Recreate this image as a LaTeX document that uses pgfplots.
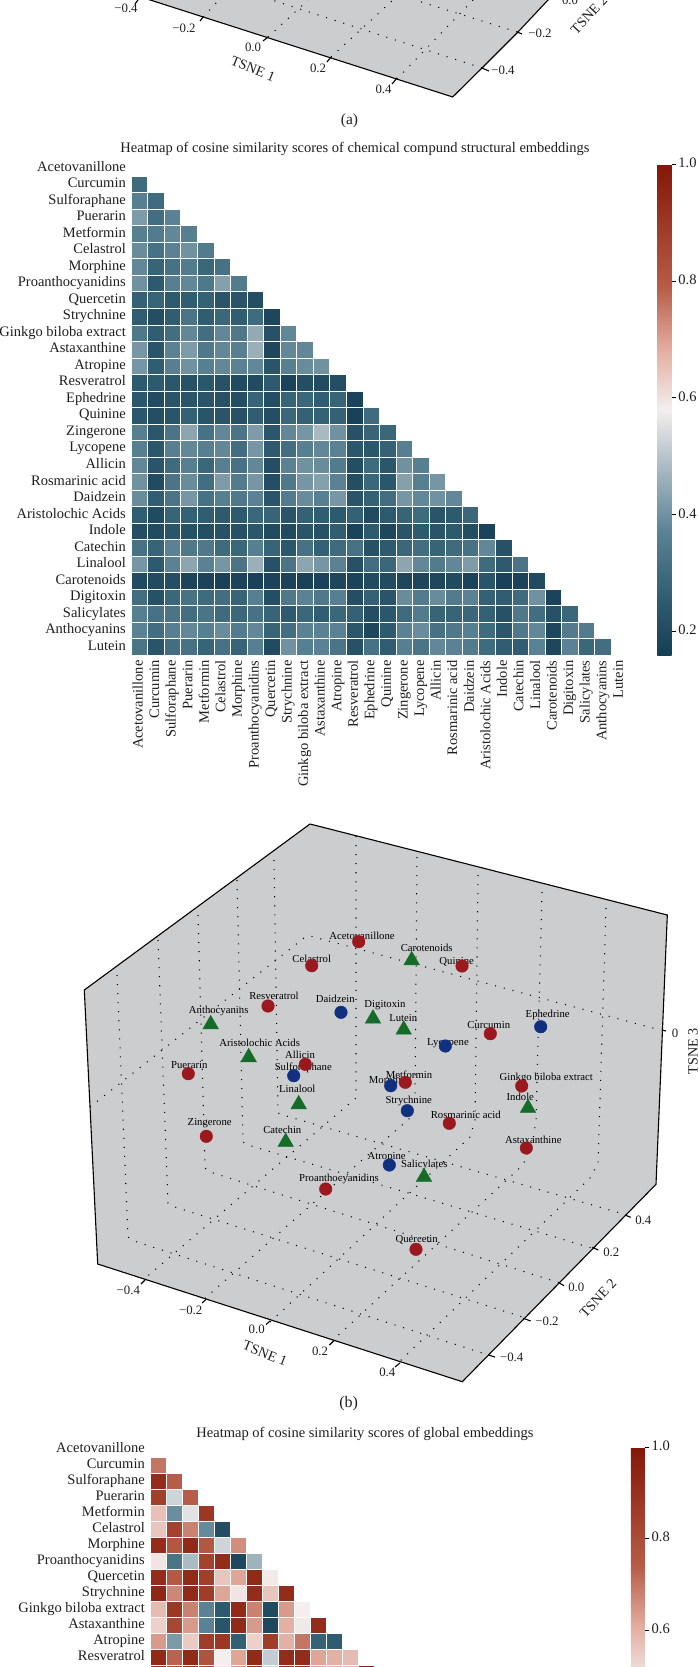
\documentclass[border=0pt]{standalone}
\usepackage{fontspec}
\setmainfont{Liberation Serif}
\usepackage{pgfplots}
\usepackage{pgfplotstable}
\pgfplotsset{compat=1.18}

\definecolor{panelgray}{RGB}{204,205,207}
\definecolor{mkred}{RGB}{155,25,30}
\definecolor{mkblue}{RGB}{17,48,127}
\definecolor{mkgreen}{RGB}{20,108,40}
\definecolor{txt}{RGB}{30,30,30}

\tikzset{
  lab/.style={font=\fontsize{10.7}{12}\selectfont, text=black, inner sep=0pt},
  tk/.style={font=\fontsize{12.8}{14}\selectfont, text=txt, inner sep=0pt},
  ax/.style={font=\fontsize{14.2}{16}\selectfont, text=txt, inner sep=0pt},
}
\pgfplotsset{
  colormap={hm}{rgb255=(22,62,86) rgb255=(50,95,115) rgb255=(90,130,148) rgb255=(165,183,192)
    rgb255=(244,238,238) rgb255=(226,172,158) rgb255=(183,92,72) rgb255=(158,58,38) rgb255=(132,22,8)},
  heat/.style={
    scale only axis, anchor=north west, colormap name=hm, clip=false,
    xmin=-0.5, xmax=29.5, ymin=-0.5, ymax=29.5, y dir=reverse,
    axis line style={draw=none}, major tick length=0pt,
    xtick pos=bottom, ytick pos=left,
    xticklabels={Acetovanillone,Curcumin,Sulforaphane,Puerarin,Metformin,Celastrol,Morphine,Proanthocyanidins,Quercetin,Strychnine,Ginkgo biloba extract,Astaxanthine,Atropine,Resveratrol,Ephedrine,Quinine,Zingerone,Lycopene,Allicin,Rosmarinic acid,Daidzein,Aristolochic Acids,Indole,Catechin,Linalool,Carotenoids,Digitoxin,Salicylates,Anthocyanins,Lutein},
    yticklabels={Acetovanillone,Curcumin,Sulforaphane,Puerarin,Metformin,Celastrol,Morphine,Proanthocyanidins,Quercetin,Strychnine,Ginkgo biloba extract,Astaxanthine,Atropine,Resveratrol,Ephedrine,Quinine,Zingerone,Lycopene,Allicin,Rosmarinic acid,Daidzein,Aristolochic Acids,Indole,Catechin,Linalool,Carotenoids,Digitoxin,Salicylates,Anthocyanins,Lutein},
    tick label style={font=\fontsize{14.5}{16}\selectfont, text=txt, text height=9.6pt, text depth=3pt},
    xticklabel style={rotate=90, anchor=east, inner xsep=0pt, xshift=-5pt},
    yticklabel style={anchor=east, inner xsep=0pt, xshift=-5pt},
    colorbar,
  },
  cbar/.style={
    scale only axis, axis line style={draw=none},
    scaled y ticks=false, ytick pos=right, tick align=outside,
    major tick length=4.5pt, ytick style={black, line width=0.8pt},
    yticklabel style={font=\fontsize{14.5}{16}\selectfont, text=txt, inner xsep=2pt,
      /pgf/number format/fixed, /pgf/number format/fixed zerofill,
      /pgf/number format/precision=1, /pgf/number format/assume math mode=true},
  },
  cell/.style={
    only marks, scatter, point meta=explicit, mark=square*, mark size=#1,
    scatter/use mapped color={draw=white, fill=mapped color},
    mark options={line width=0.55pt},
  },
  grid3d/.style={black, line width=1.05pt, dash pattern=on 1.05pt off 8pt},
  edge3d/.style={black, line width=1.1pt},
}

% structural embeddings, rows Curcumin..Lutein, columns Acetovanillone..Anthocyanins
\pgfplotstableread[header=false]{
.30 nan nan nan nan nan nan nan nan nan nan nan nan nan nan nan nan nan nan nan nan nan nan nan nan nan nan nan nan
.36 .30 nan nan nan nan nan nan nan nan nan nan nan nan nan nan nan nan nan nan nan nan nan nan nan nan nan nan nan
.42 .31 .37 nan nan nan nan nan nan nan nan nan nan nan nan nan nan nan nan nan nan nan nan nan nan nan nan nan nan
.36 .35 .38 .36 nan nan nan nan nan nan nan nan nan nan nan nan nan nan nan nan nan nan nan nan nan nan nan nan nan
.39 .32 .37 .40 .35 nan nan nan nan nan nan nan nan nan nan nan nan nan nan nan nan nan nan nan nan nan nan nan nan
.38 .28 .32 .35 .29 .32 nan nan nan nan nan nan nan nan nan nan nan nan nan nan nan nan nan nan nan nan nan nan nan
.40 .25 .36 .38 .34 .43 .35 nan nan nan nan nan nan nan nan nan nan nan nan nan nan nan nan nan nan nan nan nan nan
.27 .28 .25 .26 .27 .23 .23 .21 nan nan nan nan nan nan nan nan nan nan nan nan nan nan nan nan nan nan nan nan nan
.26 .21 .26 .33 .26 .29 .26 .30 .19 nan nan nan nan nan nan nan nan nan nan nan nan nan nan nan nan nan nan nan nan
.34 .26 .31 .38 .31 .38 .34 .45 .22 .38 nan nan nan nan nan nan nan nan nan nan nan nan nan nan nan nan nan nan nan
.41 .23 .37 .42 .34 .38 .36 .46 .19 .38 .38 nan nan nan nan nan nan nan nan nan nan nan nan nan nan nan nan nan nan
.41 .26 .36 .40 .36 .38 .37 .38 .23 .36 .39 .40 nan nan nan nan nan nan nan nan nan nan nan nan nan nan nan nan nan
.25 .25 .24 .22 .24 .22 .20 .20 .25 .18 .21 .20 .21 nan nan nan nan nan nan nan nan nan nan nan nan nan nan nan nan
.24 .20 .23 .23 .23 .22 .21 .28 .21 .28 .29 .26 .28 .18 nan nan nan nan nan nan nan nan nan nan nan nan nan nan nan
.24 .21 .23 .27 .23 .23 .22 .26 .21 .29 .27 .27 .27 .17 .30 nan nan nan nan nan nan nan nan nan nan nan nan nan nan
.36 .24 .33 .44 .32 .38 .33 .42 .24 .38 .41 .48 .40 .22 .28 .29 nan nan nan nan nan nan nan nan nan nan nan nan nan
.36 .24 .36 .38 .36 .38 .31 .41 .25 .31 .36 .38 .37 .24 .24 .27 .36 nan nan nan nan nan nan nan nan nan nan nan nan
.38 .23 .30 .36 .29 .36 .32 .38 .21 .37 .40 .39 .35 .21 .30 .24 .40 .36 nan nan nan nan nan nan nan nan nan nan nan
.40 .20 .33 .39 .31 .42 .35 .41 .21 .34 .41 .43 .37 .21 .29 .24 .43 .36 .41 nan nan nan nan nan nan nan nan nan nan
.39 .26 .33 .41 .32 .36 .34 .37 .23 .35 .39 .36 .41 .23 .27 .31 .41 .38 .40 .38 nan nan nan nan nan nan nan nan nan
.26 .20 .28 .27 .26 .25 .25 .29 .28 .23 .27 .26 .25 .27 .20 .25 .28 .30 .23 .25 .29 nan nan nan nan nan nan nan nan
.21 .20 .23 .22 .21 .22 .22 .24 .20 .20 .23 .22 .26 .18 .25 .19 .23 .25 .23 .25 .21 .18 nan nan nan nan nan nan nan
.32 .28 .37 .34 .34 .30 .29 .36 .28 .24 .32 .27 .30 .32 .22 .25 .29 .31 .28 .30 .32 .38 .22 nan nan nan nan nan nan
.41 .25 .37 .44 .37 .41 .33 .46 .22 .33 .44 .41 .37 .22 .31 .29 .44 .38 .35 .38 .42 .30 .25 .33 nan nan nan nan nan
.20 .20 .21 .18 .18 .17 .18 .17 .18 .18 .17 .18 .19 .18 .20 .20 .19 .19 .19 .20 .18 .23 .17 .18 .20 nan nan nan nan
.31 .22 .29 .32 .30 .31 .28 .36 .21 .34 .37 .34 .36 .21 .27 .23 .39 .35 .39 .35 .37 .27 .26 .30 .40 .18 nan nan nan
.36 .32 .33 .31 .33 .30 .29 .32 .28 .25 .29 .26 .29 .27 .21 .24 .30 .35 .28 .28 .29 .27 .22 .34 .31 .22 .29 nan nan
.37 .31 .36 .38 .36 .39 .35 .38 .28 .31 .37 .37 .37 .24 .19 .25 .37 .39 .32 .34 .36 .30 .24 .34 .38 .19 .35 .35 nan
.33 .23 .31 .32 .28 .32 .28 .36 .20 .40 .36 .37 .33 .22 .32 .26 .36 .33 .38 .37 .35 .30 .26 .26 .37 .19 .37 .29 .31
}\structtab

% global embeddings, only the rows that fit on the page
\pgfplotstableread[header=false]{
.70 nan nan nan nan nan nan nan nan nan nan nan nan nan
.92 .74 nan nan nan nan nan nan nan nan nan nan nan nan
.85 .42 .74 nan nan nan nan nan nan nan nan nan nan nan
.57 .25 .45 .88 nan nan nan nan nan nan nan nan nan nan
.56 .84 .68 .24 .02 nan nan nan nan nan nan nan nan nan
.92 .76 .93 .76 .42 .66 nan nan nan nan nan nan nan nan
.50 .17 .36 .84 .92 .00 .34 nan nan nan nan nan nan nan
.92 .75 .93 .85 .56 .62 .93 .49 nan nan nan nan nan nan
.94 .67 .93 .86 .62 .50 .92 .56 .92 nan nan nan nan nan
.58 .88 .68 .22 .07 .93 .68 .01 .64 .48 nan nan nan nan
.54 .82 .64 .22 .05 .93 .64 .00 .60 .47 .92 nan nan nan
.64 .28 .55 .86 .88 .09 .54 .86 .60 .70 .10 .08 nan nan
.93 .73 .93 .78 .48 .62 .93 .40 .92 .92 .62 .60 .58 nan
.90 .80 .90 .82 .50 .65 .90 .42 .92 .90 .62 .60 .58 .95
}\globaltab

\begin{document}
\begin{tikzpicture}[x=1pt,y=1pt]
\clip[use as bounding box] (0,0) rectangle (698pt,1667pt);

% structural heatmap
\begin{axis}[heat,
  at={(131pt,1507.4pt)}, width=496.8pt, height=495.6pt,
  xtick={0,...,29}, ytick={0,...,29},
  point meta min=0.16, point meta max=1,
  colorbar style={cbar, at={(1.0594,0.991)}, anchor=north west, width=14.4pt, height=491pt,
    ytick={0.2,0.4,0.6,0.8,1}},
]
\pgfplotsinvokeforeach{0,...,28}{
  \addplot[cell=8.27pt, skip coords between index={0}{#1}]
    table[x expr=#1, y expr=\coordindex+1, meta index=#1] {\structtab};
}
\end{axis}

% global heatmap, runs off the bottom of the page
\begin{axis}[heat,
  at={(150pt,225.5pt)}, width=480pt, height=480pt,
  xtick=\empty, ytick={0,...,13},
  point meta min=-0.04, point meta max=1,
  colorbar style={cbar, at={(1.002,0.9885)}, anchor=north west, width=14pt, height=475.8pt,
    ytick={0.6,0.8,1}},
]
\pgfplotsinvokeforeach{0,...,13}{
  \addplot[cell=8pt, skip coords between index={0}{#1}]
    table[x expr=#1, y expr=\coordindex+1, meta index=#1] {\globaltab};
}
\end{axis}

% TSNE panels, projected onto the page
\begin{axis}[at={(0pt,1667pt)}, anchor=north west, scale only axis, width=698pt, height=1667pt,
  xmin=0, xmax=698, ymin=0, ymax=1667, y dir=reverse, hide axis, clip=false]

% panel (a)
\addplot[fill=panelgray, draw=none] coordinates {(119,-10) (452.7,97) (482,68) (518,32) (548,0) (558,-10)};
\addplot[grid3d] coordinates {(203,17) (219,0)};
\addplot[grid3d] coordinates {(268,37) (308,0)};
\addplot[grid3d] coordinates {(331,57) (393,0)};
\addplot[grid3d] coordinates {(397,79) (473,0)};
\addplot[grid3d] coordinates {(482,68) (272,0)};
\addplot[grid3d] coordinates {(517,32) (415,0)};
\addplot[edge3d] coordinates {(119,-10) (452.7,97) (482,68) (518,32) (548,0) (558,-10)};
\addplot[edge3d, unbounded coords=jump] coordinates {
  (138,0) (135,4) (nan,nan) (203,17) (200,21) (nan,nan) (268,37) (263,41) (nan,nan)
  (331,57) (327,62) (nan,nan) (397,78) (392,84) (nan,nan) (482,68) (489,71) (nan,nan) (517,32) (522,34)};
\node[tk] at (axis cs:126,8) {−0.4};
\node[tk] at (axis cs:184,28) {−0.2};
\node[tk] at (axis cs:253,47) {0.0};
\node[tk] at (axis cs:318,68) {0.2};
\node[tk] at (axis cs:383.5,89) {0.4};
\node[tk] at (axis cs:503,70) {−0.4};
\node[tk] at (axis cs:540,33) {−0.2};
\node[tk] at (axis cs:570,0) {0.0};
\node[ax, rotate=-22] at (axis cs:253,69) {TSNE 1};
\node[ax, rotate=47] at (axis cs:589,15) {TSNE 2};
\node[ax, font=\fontsize{15.5}{16}\selectfont] at (axis cs:349.5,121) {(a)};

% panel (b)
\addplot[fill=panelgray, draw=none] coordinates {(310,824) (84.3,990) (97.7,1264) (462.3,1381.7) (656,1184.3) (667.3,915)};
\addplot[grid3d] coordinates {(117,975) (128,1237) (137,1242) (488.3,1355)};
\addplot[grid3d] coordinates {(158,940) (168,1203) (175,1207) (525.7,1318)};
\addplot[grid3d] coordinates {(198,915) (205,1168) (210,1172) (560,1283)};
\addplot[grid3d] coordinates {(237,880) (243,1142) (248,1145) (595,1249)};
\addplot[grid3d] coordinates {(274,860) (278,1113) (283,1115) (626.7,1215)};
\addplot[grid3d] coordinates {(356,836) (356,1098) (143,1280)};
\addplot[grid3d] coordinates {(417,857) (415,1100) (410,1118) (203,1300)};
\addplot[grid3d] coordinates {(478,875) (475,1120) (470,1137) (270,1322)};
\addplot[grid3d] coordinates {(542,892) (536,1120) (533,1140) (523,1165) (333,1340)};
\addplot[grid3d] coordinates {(606,908) (598,1163) (590,1178) (398,1363)};
\addplot[grid3d] coordinates {(90,1107) (304,938) (310,936) (660,1030)};
\addplot[edge3d] coordinates {(310,824) (84.3,990) (97.7,1264) (462.3,1381.7) (656,1184.3) (667.3,915) (310,824)};
\addplot[edge3d, unbounded coords=jump] coordinates {
  (145,1280) (141,1284) (nan,nan) (206,1299.5) (202,1303) (nan,nan) (270,1321) (266,1324.5) (nan,nan)
  (334,1340.5) (329.5,1345) (nan,nan) (400,1363) (395,1367) (nan,nan)
  (488.3,1355) (495,1357) (nan,nan) (523.3,1318.3) (530.7,1321) (nan,nan) (559,1282.7) (564,1285.7) (nan,nan)
  (592.3,1247.3) (598.3,1250) (nan,nan) (625,1215) (630.7,1217.3) (nan,nan) (661.7,1030) (666,1031)};

\addplot[only marks, mark=*, mark size=6.3pt, color=mkred] coordinates {
  (358.7,941.7) (311.7,965.7) (268,1006) (305.3,1064.3) (188.3,1073.7) (462,966) (490.3,1033.7)
  (405.3,1082.3) (449.3,1123.3) (521.7,1086) (526.3,1148) (416,1249.3) (206.3,1136.3) (325.7,1189)};
\addplot[only marks, mark=*, mark size=6.3pt, color=mkblue] coordinates {
  (341,1012.3) (293.7,1075.7) (540.7,1026.7) (445.3,1046) (390.7,1085.7) (407.3,1110.7) (389.3,1165)};
\addplot[only marks, mark=triangle*, mark size=9pt, color=mkgreen] coordinates {
  (373,1018.7) (210.7,1024.3) (248.7,1057.3) (298.7,1104.3) (411.7,960.3) (403.7,1029.7)
  (528,1108) (424,1177) (285.7,1142)};

\node[lab] at (axis cs:362,935.7) {Acetovanillone};
\node[lab] at (axis cs:311.7,958.7) {Celastrol};
\node[lab] at (axis cs:274,995.7) {Resveratrol};
\node[lab] at (axis cs:335.3,999.3) {Daidzein};
\node[lab] at (axis cs:385,1004.7) {Digitoxin};
\node[lab] at (axis cs:218.7,1010.7) {Anthocyanins};
\node[lab] at (axis cs:259.7,1042.7) {Aristolochic Acids};
\node[lab] at (axis cs:300,1054.7) {Allicin};
\node[lab] at (axis cs:303.3,1067.7) {Sulforaphane};
\node[lab] at (axis cs:189.3,1064.7) {Puerarin};
\node[lab] at (axis cs:297.3,1088.7) {Linalool};
\node[lab] at (axis cs:426.7,947.7) {Carotenoids};
\node[lab] at (axis cs:456.7,961.7) {Quinine};
\node[lab] at (axis cs:547.7,1015) {Ephedrine};
\node[lab] at (axis cs:488.7,1024.7) {Curcumin};
\node[lab] at (axis cs:403.3,1017.7) {Lutein};
\node[lab] at (axis cs:448,1043) {Lycopene};
\node[lab] at (axis cs:409,1074.7) {Metformin};
\node[lab] at (axis cs:390,1081) {Morphine};
\node[lab] at (axis cs:408.7,1101) {Strychnine};
\node[lab] at (axis cs:465.7,1114.7) {Rosmarinic acid};
\node[lab] at (axis cs:546.3,1077.7) {Ginkgo biloba extract};
\node[lab] at (axis cs:520.3,1096.7) {Indole};
\node[lab] at (axis cs:533.3,1139.7) {Astaxanthine};
\node[lab] at (axis cs:386.7,1157) {Atropine};
\node[lab] at (axis cs:424.3,1164.7) {Salicylates};
\node[lab] at (axis cs:416.7,1239.7) {Quercetin};
\node[lab] at (axis cs:209.7,1122.7) {Zingerone};
\node[lab] at (axis cs:282.3,1129.7) {Catechin};
\node[lab] at (axis cs:339,1178.7) {Proanthocyanidins};

\node[tk] at (axis cs:128.3,1290) {−0.4};
\node[tk] at (axis cs:190.7,1310) {−0.2};
\node[tk] at (axis cs:256.7,1329.3) {0.0};
\node[tk] at (axis cs:320,1351) {0.2};
\node[tk] at (axis cs:387.3,1372.7) {0.4};
\node[tk] at (axis cs:511.7,1357.7) {−0.4};
\node[tk] at (axis cs:547,1321.7) {−0.2};
\node[tk] at (axis cs:576.3,1287.7) {0.0};
\node[tk] at (axis cs:611.3,1252.3) {0.2};
\node[tk] at (axis cs:643.3,1220.3) {0.4};
\node[tk] at (axis cs:675,1033.3) {0};
\node[ax, rotate=-22] at (axis cs:265,1353.3) {TSNE 1};
\node[ax, rotate=47] at (axis cs:598,1298.3) {TSNE 2};
\node[ax, rotate=90] at (axis cs:693,1051) {TSNE 3};
\node[ax, font=\fontsize{16}{16}\selectfont] at (axis cs:348.7,1403.3) {(b)};

% titles
\node[ax, font=\fontsize{14.5}{16}\selectfont] at (axis cs:355,149) {Heatmap of cosine similarity scores of chemical compund structural embeddings};
\node[ax, font=\fontsize{14.5}{16}\selectfont] at (axis cs:365,1434) {Heatmap of cosine similarity scores of global embeddings};
\end{axis}
\end{tikzpicture}
\end{document}
